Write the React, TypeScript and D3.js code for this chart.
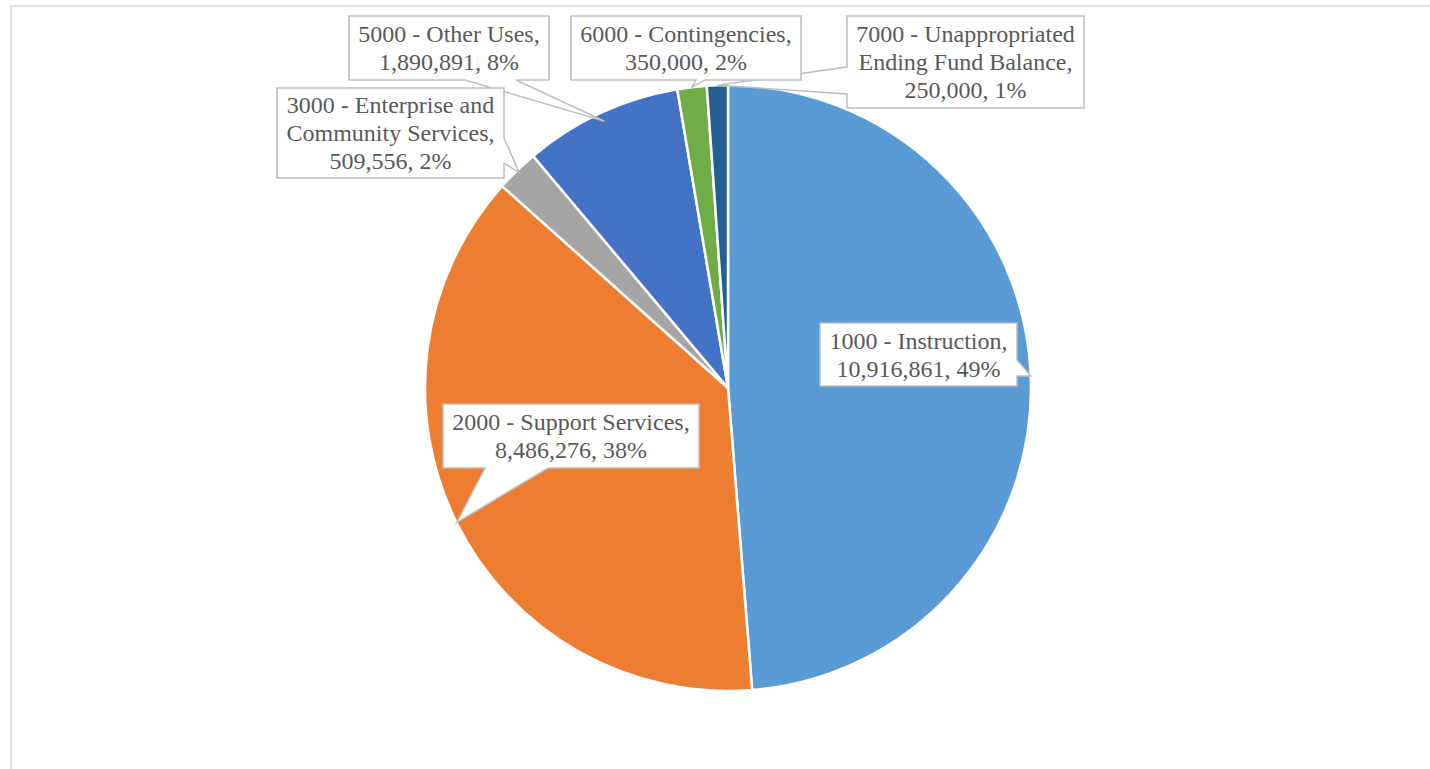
import React from "react";
import * as d3 from "d3";

// ---- data ----
const codes = ["1000", "2000", "3000", "5000", "6000", "7000"];
const nameLines = [
  ["1000 - Instruction,"],
  ["2000 - Support Services,"],
  ["3000 - Enterprise and", "Community Services,"],
  ["5000 - Other Uses,"],
  ["6000 - Contingencies,"],
  ["7000 - Unappropriated", "Ending Fund Balance,"],
];
const amounts = [10916861, 8486276, 509556, 1890891, 350000, 250000];
const colors = ["#5B9BD5", "#ED7D31", "#A5A5A5", "#4472C4", "#70AD47", "#255E91"];

// ---- layout ----
const W = 1430;
const H = 769;
const CX = 728;
const CY = 388;
const R = 303;

type Callout = {
  box: [number, number, number, number];
  side: "bottom" | "right" | "left";
  base: [number, number];
  k: number;
};
const callouts: Record<string, Callout> = {
  "1000": { box: [820, 323, 197, 63], side: "right", base: [360, 376], k: 1.0 },
  "2000": { box: [443, 404, 256, 64], side: "bottom", base: [485, 548], k: 1.0 },
  "3000": { box: [277, 88, 227, 90], side: "right", base: [138, 163], k: 0.99 },
  "5000": { box: [349, 16, 200, 64], side: "bottom", base: [465, 516], k: 0.97 },
  "6000": { box: [571, 16, 230, 64], side: "bottom", base: [696, 705], k: 1.0 },
  "7000": { box: [847, 16, 237, 92], side: "left", base: [67, 94], k: 1.0 },
};
const drawOrder = ["7000", "6000", "5000", "3000", "2000", "1000"];

function calloutPath(c: Callout, apex: [number, number]) {
  const [x, y, w, h] = c.box;
  const [b1, b2] = c.base;
  const [ax, ay] = apex;
  if (c.side === "bottom") {
    return `M${x},${y}H${x + w}V${y + h}H${b2}L${ax},${ay}L${b1},${y + h}H${x}Z`;
  }
  if (c.side === "right") {
    return `M${x},${y}H${x + w}V${b1}L${ax},${ay}L${x + w},${b2}V${y + h}H${x}Z`;
  }
  return `M${x},${y}H${x + w}V${y + h}H${x}V${b2}L${ax},${ay}L${x},${b1}Z`;
}

export default function App() {
  const total = d3.sum(amounts);
  const pie = d3
    .pie<number>()
    .sort(null)
    .value((d) => d)
    .startAngle(0)
    .endAngle(2 * Math.PI);
  const arcs = pie(amounts);
  const arc = d3.arc<d3.PieArcDatum<number>>().innerRadius(0).outerRadius(R);
  const fmt = d3.format(",");

  return (
    <svg
      width={W}
      height={H}
      style={{ position: "absolute", left: 0, top: 0, background: "#fff" }}
      fontFamily="'Liberation Serif', 'Times New Roman', serif"
    >
      <rect x={11} y={6} width={W + 20} height={H + 20} fill="#fff" stroke="#D9D9D9" strokeWidth={1.5} />
      <g transform={`translate(${CX},${CY})`}>
        {arcs.map((a, i) => (
          <path key={codes[i]} d={arc(a) || ""} fill={colors[i]} stroke="#fff" strokeWidth={2.5} strokeLinejoin="round" />
        ))}
      </g>
      {drawOrder.map((code) => {
        const i = codes.indexOf(code);
        const a = arcs[i];
        const c = callouts[code];
        const pt = d3
          .arc<d3.PieArcDatum<number>>()
          .innerRadius(R * c.k)
          .outerRadius(R * c.k)
          .centroid(a);
        const apex: [number, number] = [CX + pt[0], CY + pt[1]];
        const pct = Math.round((amounts[i] / total) * 100);
        const lines = [...nameLines[i], `${fmt(amounts[i])}, ${pct}%`];
        const [x, y, w, h] = c.box;
        const lh = 28;
        const startY = y + h / 2 - ((lines.length - 1) * lh) / 2;
        return (
          <g key={code}>
            <path d={calloutPath(c, apex)} fill="#fff" stroke="#BFBFBF" strokeWidth={1.5} strokeLinejoin="miter" />
            {lines.map((ln, j) => (
              <text
                key={j}
                x={x + w / 2}
                y={startY + j * lh}
                textAnchor="middle"
                dominantBaseline="central"
                fontSize={24}
                fill="#595959"
              >
                {ln}
              </text>
            ))}
          </g>
        );
      })}
    </svg>
  );
}
